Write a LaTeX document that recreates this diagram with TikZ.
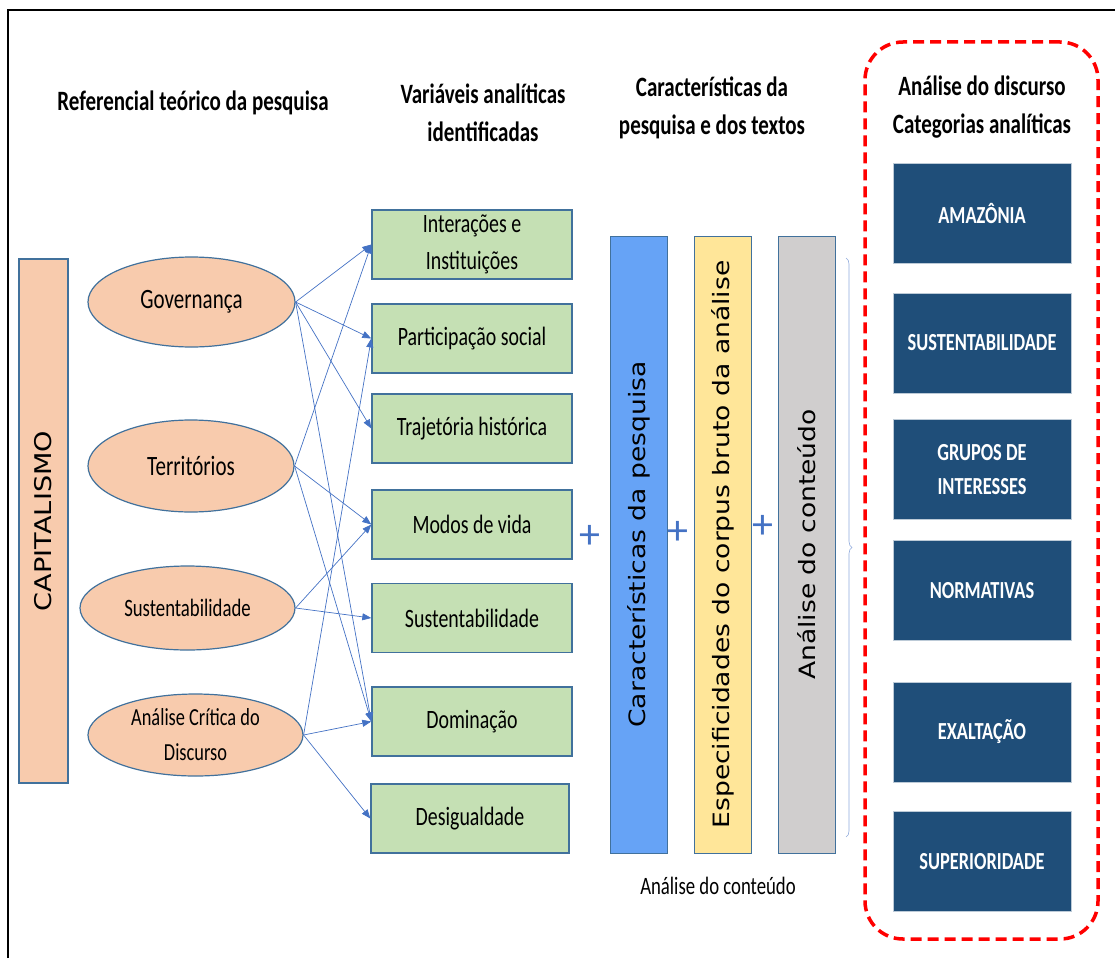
\documentclass[tikz,border=0pt]{standalone}
\usepackage{fontspec}
\setmainfont{Carlito}
\newfontfamily\carlito[FakeStretch=0.75]{Carlito}
\newfontfamily\dejavu[FakeStretch=1.18]{DejaVu Sans}
\usetikzlibrary{shapes.geometric, arrows.meta, decorations.pathreplacing}
\definecolor{pessego}{HTML}{F8CBAD}
\definecolor{borda}{HTML}{41719C}
\definecolor{verde}{HTML}{C5E0B4}
\definecolor{azul}{HTML}{4472C4}
\definecolor{azulbarra}{HTML}{66A3F6}
\definecolor{amarelo}{HTML}{FFE699}
\definecolor{cinza}{HTML}{D0CECE}
\definecolor{marinho}{HTML}{1F4E79}
\definecolor{vermelho}{HTML}{FF0000}

\begin{document}
\begin{tikzpicture}[x=1pt, y=-1pt]
    % Estilos
    \tikzstyle{titulo}=[font=\carlito\bfseries\fontsize{28}{38}\selectfont, align=center, inner sep=0pt]
    \tikzstyle{base}=[rectangle, draw=borda, fill=pessego, line width=1.2pt, minimum width=524pt, minimum height=49pt, inner sep=0pt, font=\dejavu\fontsize{23}{27}\selectfont]
    \tikzstyle{teoria}=[ellipse, draw=borda, fill=pessego, line width=1.2pt, inner sep=0pt, align=center, font=\carlito\fontsize{28}{35}\selectfont]
    \tikzstyle{variavel}=[rectangle, draw=borda, fill=verde, line width=1.4pt, minimum width=200pt, minimum height=69pt, inner sep=0pt, align=center, font=\carlito\fontsize{26.5}{37}\selectfont]
    \tikzstyle{barra}=[rectangle, draw=borda, line width=0.8pt, minimum width=617pt, minimum height=57pt, inner sep=0pt, rotate=90, font=\dejavu\fontsize{22.5}{27}\selectfont]
    \tikzstyle{categoria}=[rectangle, fill=marinho, draw=white!70!marinho, line width=0.6pt, minimum width=178pt, minimum height=100pt, inner sep=0pt, align=center, text=white, font=\carlito\bfseries\fontsize{24.5}{34}\selectfont]
    \tikzstyle{seta}=[-{Triangle[length=9pt, width=7pt]}, azul, line width=0.7pt]
    \tikzstyle{mais}=[text=azul, font=\fontsize{42}{42}\selectfont, inner sep=0pt]

    % Moldura
    \useasboundingbox (0,0) rectangle (1115,958);
    \draw[line width=1.5pt] (8,958) -- (8,10) -- (1115,10);

    % Titulos das colunas
    \node[titulo] (t_ref) at (193,103) {Referencial teórico da pesquisa};
    \node[titulo] (t_var) at (483,113) {Variáveis analíticas\\identificadas};
    \node[titulo] (t_car) at (712,108) {Características da\\pesquisa e dos textos};
    \node[titulo] (t_disc) at (982,107) {Análise do discurso\\Categorias analíticas};

    % Referencial teorico
    \node[base, rotate=90] (cap) at (43.5,521) {CAPITALISMO};
    \node[teoria, minimum width=207pt, minimum height=90pt] (gov) at (191.5,302) {Governança};
    \node[teoria, minimum width=206pt, minimum height=92pt] (terr) at (191,466) {Territórios};
    \node[teoria, minimum width=215pt, minimum height=84pt, font=\carlito\fontsize{25}{30}\selectfont] (sust) at (187.5,608) {Sustentabilidade};
    \node[teoria, minimum width=215pt, minimum height=82pt, inner ysep=-1pt, font=\carlito\fontsize{24.5}{35}\selectfont] (acd) at (195.5,735) {Análise Crítica do\\Discurso};

    % Variaveis analiticas
    \node[variavel] (inter) at (472,244.5) {Interações e\\Instituições};
    \node[variavel] (part) at (472,338.5) {Participação social};
    \node[variavel] (traj) at (472,428.5) {Trajetória histórica};
    \node[variavel] (modos) at (472,524.5) {Modos de vida};
    \node[variavel] (sustv) at (472,618) {Sustentabilidade};
    \node[variavel] (dom) at (472,721.5) {Dominação};
    \node[variavel, minimum width=198pt] (desig) at (470,818.5) {Desigualdade};

    % Caracteristicas da pesquisa
    \node[barra, fill=azulbarra] (carac) at (638.5,544.5) {Características da pesquisa};
    \node[barra, fill=amarelo] (espec) at (723,544.5) {Especificidades do corpus bruto da análise};
    \node[barra, fill=cinza] (conte) at (806.5,544.5) {Análise do conteúdo};
    \node[mais] (mais1) at (590,537) {+};
    \node[mais] (mais2) at (678,533) {+};
    \node[mais] (mais3) at (763,527) {+};
    \coordinate (chave_a) at (846,258);
    \coordinate (chave_b) at (846,837);
    \draw[azul!60, line width=0.6pt, decorate, decoration={brace, amplitude=6pt}] (chave_a) -- (chave_b);
    \node[font=\carlito\fontsize{25}{30}\selectfont] (leg) at (718,886) {Análise do conteúdo};

    % Analise do discurso
    \node[draw=vermelho, line width=3.5pt, dash pattern=on 11pt off 6pt, rounded corners=38pt, minimum width=233pt, minimum height=897pt] (caixa) at (981.5,490.5) {};
    \node[categoria] (amaz) at (982,213.5) {AMAZÔNIA};
    \node[categoria] (sustc) at (982,343) {SUSTENTABILIDADE};
    \node[categoria] (grupos) at (982,469.5) {GRUPOS DE\\INTERESSES};
    \node[categoria] (norm) at (982,590.5) {NORMATIVAS};
    \node[categoria] (exalt) at (982,732) {EXALTAÇÃO};
    \node[categoria] (super) at (982,861.5) {SUPERIORIDADE};

    % Setas
    \draw[seta] (gov.east) -- (inter.west);
    \draw[seta] (gov.east) -- (part.west);
    \draw[seta] (gov.east) -- (traj.west);
    \draw[seta] (gov.east) -- (dom.west);
    \draw[seta] (terr.east) -- (inter.west);
    \draw[seta] (terr.east) -- (modos.west);
    \draw[seta] (terr.east) -- (dom.west);
    \draw[seta] (sust.east) -- (modos.west);
    \draw[seta] (sust.east) -- (sustv.west);
    \draw[seta] (acd.east) -- (part.west);
    \draw[seta] (acd.east) -- (dom.west);
    \draw[seta] (acd.east) -- (desig.west);
\end{tikzpicture}
\end{document}
